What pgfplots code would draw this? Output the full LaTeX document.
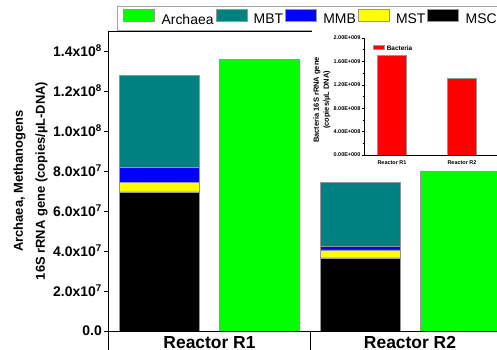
\documentclass[border=0pt]{standalone}
\usepackage{pgfplots}
\pgfplotsset{compat=1.18}
\usepackage{fontspec}
\setmainfont{Liberation Sans}
\definecolor{cArch}{RGB}{0,255,0}
\definecolor{cMBT}{RGB}{0,128,128}
\definecolor{cMMB}{RGB}{0,0,255}
\definecolor{cMST}{RGB}{255,255,0}
\definecolor{cMSC}{RGB}{0,0,0}
\definecolor{cBac}{RGB}{255,0,0}
\definecolor{edge}{RGB}{150,150,150}
\pgfplotsset{
  mybar/.style={fill=#1, draw=edge, line width=0.6bp,
    legend image code/.code={\draw[##1] (0bp,-1.5bp) rectangle (31bp,10.5bp);}},
  bacbar/.style={fill=cBac, draw=edge, line width=0.4bp,
    legend image code/.code={\draw[##1] (0bp,-0.5bp) rectangle (11bp,3.5bp);}},
}
\begin{document}
\begin{tikzpicture}
\useasboundingbox (0bp,0bp) rectangle (497bp,350bp);
\clip (0bp,0bp) rectangle (497bp,350bp);
\begin{axis}[
  at={(108bp,19bp)}, anchor=south west,
  scale only axis, width=403bp, height=300bp,
  ybar stacked, bar width=80bp,
  xmin=0, xmax=403, ymin=0, ymax=1.5e8,
  axis line style={line width=0.9bp},
  scaled y ticks=false,
  ytick={0,2e7,4e7,6e7,8e7,1e8,1.2e8,1.4e8},
  yticklabels={0.0, 2.0x10\textsuperscript{7}, 4.0x10\textsuperscript{7}, 6.0x10\textsuperscript{7}, 8.0x10\textsuperscript{7}, 1.0x10\textsuperscript{8}, 1.2x10\textsuperscript{8}, 1.4x10\textsuperscript{8}},
  ytick pos=left, tick align=outside,
  major tick length=4bp,
  ytick style={line width=0.9bp, black},
  yticklabel style={font=\bfseries\fontsize{14}{14}\selectfont, inner xsep=2bp},
  xtick={101.5,302}, xticklabels={Reactor R1, Reactor R2},
  xtick pos=bottom,
  xtick style={draw=none},
  xticklabel style={font=\bfseries\fontsize{17.5}{17.5}\selectfont, yshift=1.8bp},
  extra x ticks={0,202,403}, extra x tick labels={},
  extra x tick style={xtick style={draw=black, line width=0.9bp}, major tick length=30bp},
  ylabel={Archaea, Methanogens\\16S rRNA gene (copies/µL-DNA)},
  ylabel style={at={(axis description cs:-0.1923,0.5)}, anchor=center, align=center, font=\bfseries\fontsize{13}{22}\selectfont},
  reverse legend,
  legend style={at={(axis description cs:0.0223,1)}, anchor=south west, legend columns=-1, draw=gray!70, line width=0.8bp, font=\fontsize{14}{14}\selectfont, inner xsep=6bp, inner ysep=3bp,
     column sep=4.6bp, cells={inner xsep=0bp},
     /tikz/every even column/.append style={column sep=0bp}},
]
\addplot[mybar=cMSC] coordinates {(51,6.95e7) (151,0) (252,3.65e7) (352,0)};
\addlegendentry{MSC}
\addplot[mybar=cMST] coordinates {(51,0.47e7) (151,0) (252,0.40e7) (352,0)};
\addlegendentry{MST}
\addplot[mybar=cMMB] coordinates {(51,0.75e7) (151,0) (252,0.17e7) (352,0)};
\addlegendentry{MMB}
\addplot[mybar=cMBT] coordinates {(51,4.60e7) (151,0) (252,3.20e7) (352,0)};
\addlegendentry{MBT}
\addplot[mybar=cArch] coordinates {(51,0) (151,1.358e8) (252,0) (352,8.0e7)};
\addlegendentry{Archaea}
\end{axis}
\fill[white] (312bp,182bp) rectangle (500bp,320.5bp);
\begin{axis}[
  at={(364bp,195bp)}, anchor=south west, scale only axis, width=136bp, height=117bp,
  xmin=0, xmax=136, ymin=0, ymax=2e9,
  axis x line=bottom, axis y line=left, axis line style={-, line width=0.5bp},
  ybar, bar width=29bp,
  scaled y ticks=false,
  ytick={0,4e8,8e8,1.2e9,1.6e9,2e9},
  yticklabels={0.00E+000, 4.00E+008, 8.00E+008, 1.20E+009, 1.60E+009, 2.00E+009},
  minor y tick num=1,
  tick align=outside, major tick length=2.5bp, minor tick length=1.5bp,
  ytick style={line width=0.4bp, black},
  yticklabel style={font=\bfseries\fontsize{5.5}{5.5}\selectfont, inner xsep=1bp},
  xtick={28,98}, xticklabels={Reactor R1, Reactor R2}, xtick style={draw=none},
  xticklabel style={font=\bfseries\fontsize{5.5}{5.5}\selectfont},
  ylabel={Bacteria 16S rRNA gene\\(copies/µL DNA)},
  ylabel style={at={(axis description cs:-0.309,0.47)}, anchor=center, align=center, font=\bfseries\fontsize{7.5}{10}\selectfont},
  legend style={at={(axis description cs:0.06,0.96)}, anchor=north west, draw=none, fill=none, font=\bfseries\fontsize{6.5}{6.5}\selectfont, inner sep=1bp},
]
\addplot[bacbar] coordinates {(28,1.70e9) (98,1.31e9)};
\addlegendentry{Bacteria}
\end{axis}
\end{tikzpicture}
\end{document}
